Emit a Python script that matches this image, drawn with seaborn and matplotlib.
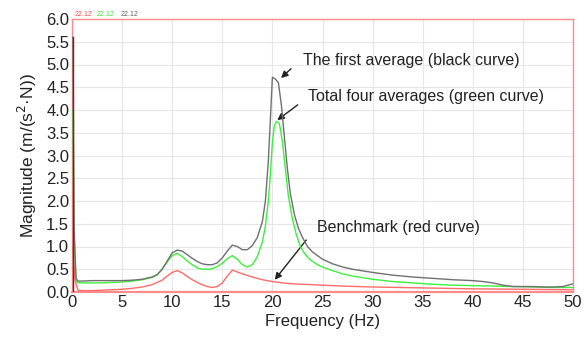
import matplotlib
matplotlib.use("Agg")
import matplotlib.pyplot as plt
import seaborn as sns
import pandas as pd

# Black curve: the first average
black_f = [0.0, 0.1, 0.2, 0.4, 0.6, 1.0, 2, 3, 4, 5, 6, 7, 8, 8.5, 9, 9.5, 10, 10.5, 11, 11.5, 12, 12.5, 13, 13.5, 14, 14.5,
           15, 15.5, 16, 16.5, 17, 17.5, 18, 18.5, 19, 19.3, 19.6, 19.8, 20.0, 20.3, 20.6, 20.9, 21.2, 21.5, 21.8, 22.2,
           22.6, 23.0, 23.5, 24, 25, 26, 27, 28, 30, 32, 34, 36, 38, 40, 41, 42, 43, 44, 45, 46, 47, 48, 49, 50]
black_m = [5.6, 5.6, 1.5, 0.3, 0.24, 0.24, 0.25, 0.25, 0.25, 0.25, 0.26, 0.28, 0.33, 0.38, 0.5, 0.68, 0.86, 0.92, 0.9, 0.82,
           0.74, 0.67, 0.62, 0.6, 0.6, 0.64, 0.75, 0.9, 1.03, 1.0, 0.93, 0.93, 1.02, 1.2, 1.55, 2.0, 2.9, 3.8, 4.72, 4.68,
           4.6, 4.1, 3.4, 2.7, 2.15, 1.7, 1.4, 1.2, 1.0, 0.88, 0.72, 0.62, 0.55, 0.5, 0.43, 0.37, 0.33, 0.3, 0.27, 0.25,
           0.23, 0.2, 0.15, 0.12, 0.12, 0.12, 0.11, 0.11, 0.12, 0.18]

# Green curve: total four averages
green_f = [0.0, 0.1, 0.2, 0.4, 0.6, 1.0, 2, 3, 4, 5, 6, 7, 8, 8.5, 9, 9.5, 10, 10.5, 11, 11.5, 12, 12.5, 13, 13.5, 14, 14.5,
           15, 15.5, 16, 16.5, 17, 17.5, 18, 18.5, 19, 19.3, 19.6, 19.8, 20.0, 20.2, 20.4, 20.7, 21.0, 21.3, 21.6, 22.0,
           22.4, 22.8, 23.2, 23.7, 24.5, 25, 26, 27, 28, 30, 32, 34, 36, 38, 40, 42, 44, 46, 48, 50]
green_m = [4.0, 4.0, 1.2, 0.25, 0.2, 0.2, 0.2, 0.2, 0.21, 0.22, 0.24, 0.27, 0.32, 0.38, 0.5, 0.66, 0.8, 0.85, 0.78, 0.68,
           0.6, 0.53, 0.5, 0.5, 0.51, 0.56, 0.63, 0.73, 0.8, 0.72, 0.6, 0.55, 0.6, 0.78, 1.1, 1.45, 2.0, 2.6, 3.3, 3.65,
           3.75, 3.7, 3.3, 2.7, 2.1, 1.6, 1.25, 1.0, 0.85, 0.72, 0.6, 0.55, 0.47, 0.4, 0.35, 0.28, 0.23, 0.2, 0.17, 0.15,
           0.14, 0.13, 0.12, 0.11, 0.1, 0.1]

# Red curve: benchmark
red_f = [0.0, 0.1, 0.3, 0.6, 1.0, 2, 3, 4, 5, 6, 7, 8, 9, 9.5, 10, 10.5, 11, 11.5, 12, 12.5, 13, 13.5, 14, 14.5, 15, 15.5,
         16, 16.5, 17, 18, 19, 20, 21, 22, 23, 25, 27, 30, 35, 40, 45, 50]
red_m = [1.0, 0.95, 0.25, 0.04, 0.03, 0.03, 0.04, 0.05, 0.06, 0.08, 0.11, 0.16, 0.26, 0.35, 0.43, 0.47, 0.42, 0.34, 0.27,
         0.21, 0.16, 0.12, 0.1, 0.12, 0.2, 0.35, 0.48, 0.44, 0.4, 0.33, 0.27, 0.23, 0.2, 0.18, 0.17, 0.15, 0.13, 0.11,
         0.09, 0.07, 0.06, 0.05]

x_ticks = [0, 5, 10, 15, 20, 25, 30, 35, 40, 45, 50]
y_ticks = [0.0, 0.5, 1.0, 1.5, 2.0, 2.5, 3.0, 3.5, 4.0, 4.5, 5.0, 5.5, 6.0]

sns.set_style("whitegrid", {"grid.color": "#e6e6e6", "axes.edgecolor": "#ff8c8c"})
plt.rcParams['font.family'] = ['Liberation Sans', 'DejaVu Sans']

fig = plt.figure(figsize=(5.84, 3.38), dpi=100)
ax = fig.add_axes([72 / 584, 1 - 292 / 338, (573 - 72) / 584, (292 - 19) / 338])

df_b = pd.DataFrame({"f": black_f, "m": black_m})
df_g = pd.DataFrame({"f": green_f, "m": green_m})
df_r = pd.DataFrame({"f": red_f, "m": red_m})

sns.lineplot(data=df_r, x="f", y="m", ax=ax, color="#ff6b6b", lw=1.0, sort=False, zorder=3)
sns.lineplot(data=df_g, x="f", y="m", ax=ax, color="#3cf03c", lw=1.0, sort=False, zorder=4)
sns.lineplot(data=df_b, x="f", y="m", ax=ax, color="#707070", lw=1.0, sort=False, zorder=5)
# dark spike at origin
ax.plot([0.12, 0.12], [0.0, 5.6], color="#8b1a1a", lw=1.0, zorder=6)

ax.set_xlim(0, 50)
ax.set_ylim(0, 6.0)
ax.set_xticks(x_ticks)
ax.set_yticks(y_ticks)
ax.set_yticklabels([f"{v:.1f}" for v in y_ticks])
ax.tick_params(labelsize=12, colors="#222222", pad=2, length=0)
for s in ax.spines.values():
    s.set_color("#ff8c8c")
    s.set_linewidth(1.0)
ax.spines["bottom"].set_linewidth(1.6)
ax.grid(True, color="#e6e6e6", lw=0.8)

ax.set_xlabel("Frequency (Hz)", fontsize=12, color="#222222", labelpad=3)
ax.set_ylabel("Magnitude (m/(s$^2$·N))", fontsize=12.5, color="#222222", labelpad=5)

arrow = dict(arrowstyle="-|>", color="#222222", lw=1.0, mutation_scale=10)
ax.annotate("", xy=(20.66, 4.66), xytext=(22.06, 4.95), arrowprops=arrow)
ax.text(23.05, 5.08, "The first average (black curve)", fontsize=11.5, va="center", ha="left", color="#222222")
ax.annotate("", xy=(20.26, 3.74), xytext=(22.75, 4.15), arrowprops=arrow)
ax.text(23.55, 4.29, "Total four averages (green curve)", fontsize=11.5, va="center", ha="left", color="#222222")
ax.annotate("", xy=(20.06, 0.22), xytext=(23.55, 1.19), arrowprops=arrow)
ax.text(24.45, 1.41, "Benchmark (red curve)", fontsize=11.5, va="center", ha="left", color="#222222")

# small labels at top-left
fig.text(75 / 584, 1 - 14 / 338, "22.12", color="#ff5050", fontsize=5, va="center")
fig.text(97 / 584, 1 - 14 / 338, "22.12", color="#40e040", fontsize=5, va="center")
fig.text(121 / 584, 1 - 14 / 338, "22.12", color="#606060", fontsize=5, va="center")

fig.savefig("out.png", dpi=100)
